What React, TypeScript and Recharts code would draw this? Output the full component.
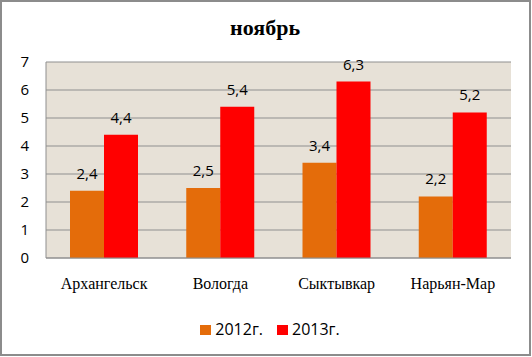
import React from 'react';
import { BarChart, Bar, XAxis, YAxis, CartesianGrid, LabelList } from 'recharts';

const cities = ['Архангельск', 'Вологда', 'Сыктывкар', 'Нарьян-Мар'];
const values2012 = [2.4, 2.5, 3.4, 2.2];
const values2013 = [4.4, 5.4, 6.3, 5.2];
const yTicks = [0, 1, 2, 3, 4, 5, 6, 7];
const seriesNames = ['2012г.', '2013г.'];
const seriesColors = ['#E46C0A', '#FF0000'];
const title = 'ноябрь';

const data = cities.map((c, i) => ({ city: c, y2012: values2012[i], y2013: values2013[i] }));

const fmt = (v: any) => String(v).replace('.', ',');

const sans = '"Open Sans", sans-serif';
const serif = '"Liberation Serif", "Times New Roman", serif';

export default function App() {
  return (
    <div style={{ position: 'absolute', left: 0, top: 0, width: 532, height: 357, background: '#fff' }}>
      <div style={{ position: 'absolute', left: 0, top: 0, width: 531, height: 356, boxSizing: 'border-box', border: '2px solid #8c8c8c' }} />
      <div style={{ position: 'absolute', left: 0, top: 16, width: 532, textAlign: 'center', fontFamily: serif, fontWeight: 'bold', fontSize: 22, lineHeight: '24px', color: '#000' }}>
        <span style={{ position: 'relative', left: -1 }}>{title}</span>
      </div>
      <div style={{ position: 'absolute', left: 0, top: 0 }}>
        <BarChart
          width={532}
          height={357}
          data={data}
          margin={{ top: 62, right: 21, bottom: 69, left: 0 }}
          barCategoryGap={24}
          barGap={0}
        >
          <CartesianGrid vertical={false} stroke="#8f8f8f" strokeWidth={1} fill="#E7E1D7" />
          <XAxis
            dataKey="city"
            height={30}
            axisLine={{ stroke: '#8f8f8f' }}
            tickLine={false}
            tickSize={0}
            tickMargin={20}
            tick={{ fontFamily: serif, fontSize: 16, fill: '#000' }}
            interval={0}
          />
          <YAxis
            domain={[0, 7]}
            ticks={yTicks}
            width={46}
            axisLine={{ stroke: '#8f8f8f' }}
            tickLine={false}
            tickSize={0}
            tickMargin={17}
            tick={{ fontFamily: sans, fontSize: 15, fill: '#000' }}
            interval={0}
          />
          <Bar dataKey="y2012" name={seriesNames[0]} fill={seriesColors[0]} isAnimationActive={false}>
            <LabelList dataKey="y2012" position="top" offset={12} formatter={fmt} style={{ fontFamily: sans, fontSize: 15, fill: '#000' }} />
          </Bar>
          <Bar dataKey="y2013" name={seriesNames[1]} fill={seriesColors[1]} isAnimationActive={false}>
            <LabelList dataKey="y2013" position="top" offset={12} formatter={fmt} style={{ fontFamily: sans, fontSize: 15, fill: '#000' }} />
          </Bar>
        </BarChart>
      </div>
      <div style={{ position: 'absolute', top: 319, left: 0, width: 532, display: 'flex', justifyContent: 'center', paddingLeft: 8, boxSizing: 'border-box', fontFamily: sans, fontSize: 16, lineHeight: '20px', color: '#000' }}>
        {seriesNames.map((n, i) => (
          <div key={n} style={{ display: 'flex', alignItems: 'center', marginRight: i === 0 ? 14 : 0 }}>
            <span style={{ display: 'inline-block', width: 11, height: 10, background: seriesColors[i], marginRight: 4, marginTop: 2 }} />
            <span>{n}</span>
          </div>
        ))}
      </div>
    </div>
  );
}
